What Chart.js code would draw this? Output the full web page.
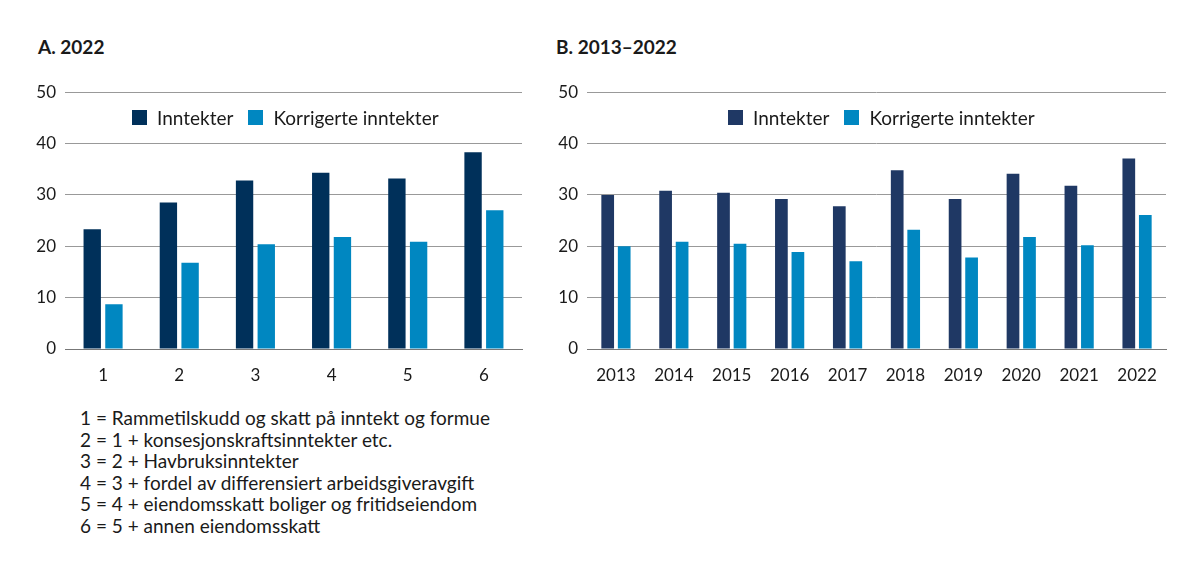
<!DOCTYPE html>
<html>
<head>
<meta charset="utf-8">
<script src="https://cdn.jsdelivr.net/npm/chart.js@4"></script>
<style>
  body { margin: 0; width: 1200px; height: 569px; background: #fff; font-family: Lato, "Noto Sans", sans-serif; color: #1a1a1a; position: relative; overflow: hidden; }
  .title { position: absolute; top: 35px; font-size: 19px; font-weight: bold; }
  .box { position: absolute; }
  .legend { position: absolute; top: 106px; font-size: 19px; display: flex; align-items: center; white-space: nowrap; }
  .legend span.sw { display: inline-block; width: 15px; height: 15px; margin-right: 10px; }
  .legend span.item { display: inline-flex; align-items: center; margin-right: 15px; }
  .notes { position: absolute; left: 80px; top: 407px; font-size: 19px; line-height: 21.6px; }
</style>
</head>
<body>
<div class="title" style="left:38px">A. 2022</div>
<div class="title" style="left:556px">B. 2013–2022</div>

<div class="box" style="left:0; top:73px; width:530px; height:316px"><canvas id="chartA"></canvas></div>
<div class="box" style="left:520px; top:73px; width:660px; height:316px"><canvas id="chartB"></canvas></div>
<div class="legend" id="legendA" style="left:132px"></div>
<div class="legend" id="legendB" style="left:728px"></div>

<div class="notes">
  1 = Rammetilskudd og skatt på inntekt og formue<br>
  2 = 1 + konsesjonskraftsinntekter etc.<br>
  3 = 2 + Havbruksinntekter<br>
  4 = 3 + fordel av differensiert arbeidsgiveravgift<br>
  5 = 4 + eiendomsskatt boliger og fritidseiendom<br>
  6 = 5 + annen eiendomsskatt
</div>

<script>
// Panel A: 2022, by income definition
var labelsA = ["1", "2", "3", "4", "5", "6"];
var inntekterA = [23.3, 28.5, 32.8, 34.3, 33.2, 38.3];
var korrigerteA = [8.7, 16.8, 20.4, 21.8, 20.9, 27.0];

// Panel B: 2013-2022
var labelsB = ["2013", "2014", "2015", "2016", "2017", "2018", "2019", "2020", "2021", "2022"];
var inntekterB = [30.0, 30.8, 30.4, 29.2, 27.8, 34.8, 29.2, 34.1, 31.8, 37.1];
var korrigerteB = [20.0, 20.9, 20.5, 18.9, 17.1, 23.2, 17.8, 21.8, 20.2, 26.1];

var yTicks = [0, 10, 20, 30, 40, 50];

var light = "#0087c1";
var font = "Lato, 'Noto Sans', sans-serif";

function makeChart(id, labels, inn, kor, dark, yWidth, padRight, catPct, barPct) {
    var ctx = document.getElementById(id).getContext("2d");
    return new Chart(ctx, {
        type: "bar",
        data: {
            labels: labels,
            datasets: [
                { label: "Inntekter", data: inn, backgroundColor: dark,
                  categoryPercentage: catPct, barPercentage: barPct },
                { label: "Korrigerte inntekter", data: kor, backgroundColor: light,
                  categoryPercentage: catPct, barPercentage: barPct },
            ],
        },
        options: {
            responsive: true,
            maintainAspectRatio: false,
            animation: false,
            layout: { padding: { top: 6, right: padRight, left: 0, bottom: 0 } },
            plugins: { legend: { display: false }, tooltip: { enabled: false } },
            scales: {
                x: {
                    grid: { display: false },
                    border: { display: true, color: "#777", width: 1 },
                    ticks: { color: "#1a1a1a", font: { family: font, size: 17 }, padding: 8 },
                    afterFit: function (s) { s.height = 40; },
                },
                y: {
                    min: 0, max: 50,
                    afterBuildTicks: function (s) { s.ticks = yTicks.map(function (v) { return { value: v }; }); },
                    grid: { color: "#999", drawTicks: false, lineWidth: 1 },
                    border: { display: false },
                    ticks: { color: "#1a1a1a", font: { family: font, size: 17 }, padding: 9 },
                    afterFit: function (s) { s.width = yWidth; },
                },
            },
        },
    });
}

function buildLegend(chart, elId) {
    var el = document.getElementById(elId);
    chart.data.datasets.forEach(function (ds) {
        var item = document.createElement("span");
        item.className = "item";
        var sw = document.createElement("span");
        sw.className = "sw";
        sw.style.background = ds.backgroundColor;
        item.appendChild(sw);
        item.appendChild(document.createTextNode(ds.label));
        el.appendChild(item);
    });
}

var chartA = makeChart("chartA", labelsA, inntekterA, korrigerteA, "#00305a", 65, 8, 0.57, 0.8);
var chartB = makeChart("chartB", labelsB, inntekterB, korrigerteB, "#1f3864", 67, 14, 0.57, 0.77);
buildLegend(chartA, "legendA");
buildLegend(chartB, "legendB");
</script>
</body>
</html>
